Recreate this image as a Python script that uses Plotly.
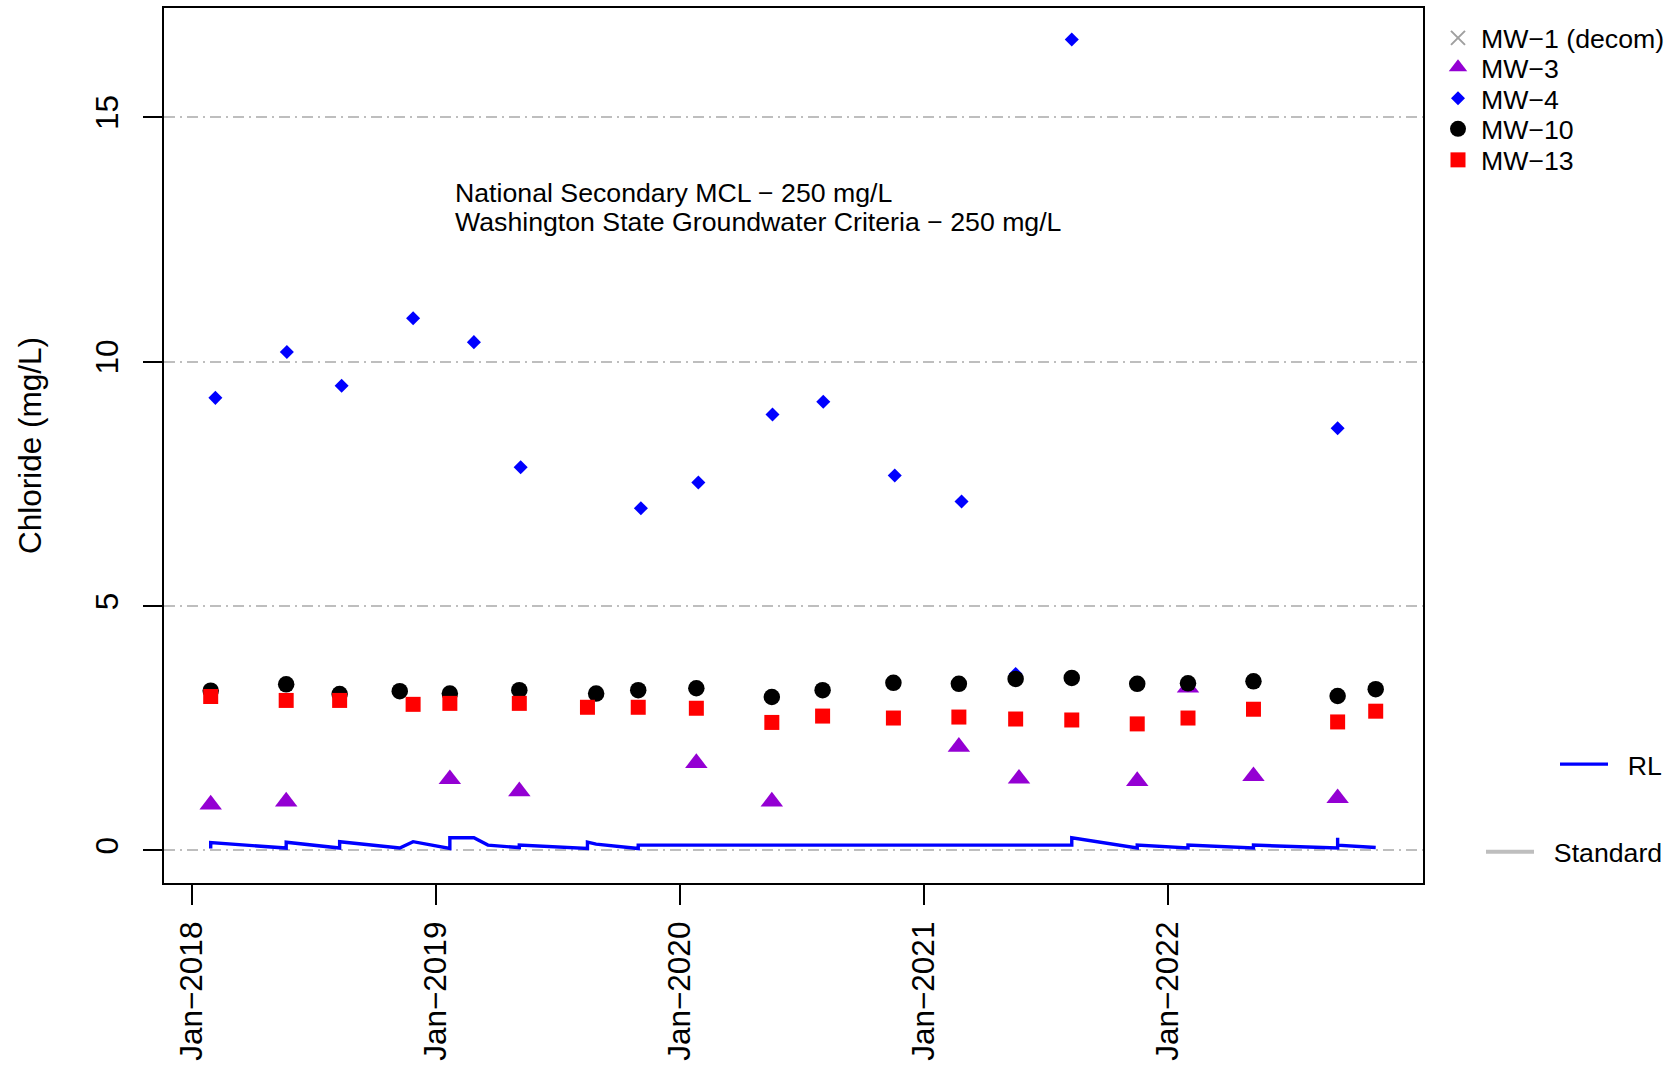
import plotly.graph_objects as go

# ---------------- data ----------------
mw1_dates = []          # decommissioned well: no samples in this period
mw1_vals = []

mw3_dates = ["2018-01-29", "2018-05-22", "2019-01-22", "2019-05-06", "2020-01-26", "2020-05-18",
             "2021-02-22", "2021-05-23", "2021-11-16", "2022-01-31", "2022-05-09", "2022-09-12"]
mw3_vals = [0.94, 1.00, 1.46, 1.21, 1.79, 1.00, 2.12, 1.47, 1.42, 3.33, 1.52, 1.07]

mw4_dates = ["2018-02-05", "2018-05-23", "2018-08-13", "2018-11-28", "2019-02-27", "2019-05-08",
             "2019-11-04", "2020-01-29", "2020-05-19", "2020-08-03", "2020-11-18", "2021-02-26",
             "2021-05-18", "2021-08-10", "2022-09-12"]
mw4_vals = [9.26, 10.20, 9.51, 10.89, 10.40, 7.84, 7.00, 7.53, 8.92, 9.18, 7.67, 7.14, 3.61, 16.59, 8.64]

mw10_dates = ["2018-01-29", "2018-05-22", "2018-08-10", "2018-11-08", "2019-01-22", "2019-05-06",
              "2019-08-29", "2019-10-31", "2020-01-26", "2020-05-18", "2020-08-02", "2020-11-16",
              "2021-02-22", "2021-05-18", "2021-08-10", "2021-11-16", "2022-01-31", "2022-05-09",
              "2022-09-12", "2022-11-08"]
mw10_vals = [3.27, 3.40, 3.20, 3.26, 3.21, 3.28, 3.21, 3.28, 3.32, 3.14, 3.28, 3.43,
             3.41, 3.51, 3.53, 3.41, 3.42, 3.46, 3.16, 3.30]

mw13_dates = ["2018-01-29", "2018-05-22", "2018-08-10", "2018-11-28", "2019-01-22", "2019-05-06",
              "2019-08-16", "2019-10-31", "2020-01-26", "2020-05-18", "2020-08-02", "2020-11-16",
              "2021-02-22", "2021-05-18", "2021-08-10", "2021-11-16", "2022-01-31", "2022-05-09",
              "2022-09-12", "2022-11-08"]
mw13_vals = [3.15, 3.07, 3.07, 2.99, 3.01, 3.01, 2.93, 2.93, 2.91, 2.62, 2.75, 2.71,
             2.73, 2.69, 2.67, 2.59, 2.71, 2.89, 2.63, 2.85]

rl_dates = ["2018-01-29", "2018-01-29", "2018-05-22", "2018-05-22", "2018-08-10", "2018-08-10",
            "2018-11-08", "2018-11-28", "2019-01-22", "2019-01-22", "2019-02-27", "2019-03-20",
            "2019-05-06", "2019-05-06", "2019-08-16", "2019-08-16", "2019-08-29", "2019-10-31",
            "2019-10-31", "2020-01-26", "2020-05-18", "2020-08-02", "2020-11-16", "2021-02-22",
            "2021-05-18", "2021-08-10", "2021-08-10", "2021-11-16", "2021-11-16", "2022-01-31",
            "2022-01-31", "2022-05-09", "2022-05-09", "2022-09-12", "2022-09-12", "2022-09-12",
            "2022-11-08"]
rl_vals = [0.04, 0.16, 0.05, 0.17, 0.05, 0.18,
           0.05, 0.18, 0.04, 0.26, 0.26, 0.11,
           0.06, 0.11, 0.04, 0.17, 0.13, 0.04,
           0.11, 0.11, 0.11, 0.11, 0.11, 0.11,
           0.11, 0.11, 0.26, 0.05, 0.11, 0.05,
           0.11, 0.05, 0.11, 0.05, 0.26, 0.11,
           0.06]

std_dates = ["2018-01-29", "2022-11-08"]
std_vals = [250, 250]   # standard (250 mg/L) lies far above the plotted range

x_tickvals = ["2018-01-01", "2019-01-01", "2020-01-01", "2021-01-01", "2022-01-01"]
x_ticktext = ["Jan\u22122018", "Jan\u22122019", "Jan\u22122020", "Jan\u22122021", "Jan\u22122022"]
y_tickvals = [0, 5, 10, 15]
y_ticktext = ["0", "5", "10", "15"]

note_lines = ["National Secondary MCL \u2212 250 mg/L",
              "Washington State Groundwater Criteria \u2212 250 mg/L"]

# ---------------- layout constants ----------------
W, H = 1678, 1065
ML, MR, MT, MB = 164, 255, 8, 182
FONT = "Liberation Sans, Arial, sans-serif"
AX_FS = 31.5
TX_FS = 26.7


def leg(x_px, y_px, **kw):
    d = dict(xref="container", yref="container", x=x_px / W, y=1 - y_px / H,
             xanchor="left", yanchor="middle", bgcolor="rgba(0,0,0,0)", borderwidth=0,
             font=dict(family=FONT, size=TX_FS, color="black"))
    d.update(kw)
    return d


def px_paper_x(px):
    return (px - ML) / (W - ML - MR)


def px_paper_y(py):
    return (H - MB - py) / (H - MB - MT)


fig = go.Figure()

fig.add_trace(go.Scatter(x=mw1_dates or [None], y=mw1_vals or [None], mode="markers",
                         name="MW\u22121 (decom)", showlegend=True,
                         marker=dict(symbol="x-thin", size=14, color="#A0A0A0",
                                     line=dict(color="#A0A0A0", width=2)),
                         legend="legend"))
fig.add_trace(go.Scatter(x=mw3_dates, y=mw3_vals, mode="markers", name="MW\u22123",
                         marker=dict(symbol="triangle-up", size=19.5, color="#9400D3"),
                         legend="legend2"))
fig.add_trace(go.Scatter(x=mw4_dates, y=mw4_vals, mode="markers", name="MW\u22124",
                         marker=dict(symbol="diamond", size=10.8, color="#0000FF"),
                         legend="legend3"))
fig.add_trace(go.Scatter(x=mw10_dates, y=mw10_vals, mode="markers", name="MW\u221210",
                         marker=dict(symbol="circle", size=16.5, color="#000000"),
                         legend="legend4"))
fig.add_trace(go.Scatter(x=mw13_dates, y=mw13_vals, mode="markers", name="MW\u221213",
                         marker=dict(symbol="square", size=15, color="#FF0000"),
                         legend="legend5"))
fig.add_trace(go.Scatter(x=rl_dates, y=rl_vals, mode="lines", name="\u00a0\u00a0RL",
                         line=dict(color="#0000FF", width=3.4),
                         legend="legend6"))
fig.add_trace(go.Scatter(x=std_dates, y=std_vals, mode="lines", name="\u00a0\u00a0Standard",
                         line=dict(color="#BEBEBE", width=4),
                         legend="legend7"))

for i, t in enumerate(note_lines):
    fig.add_annotation(xref="paper", yref="paper", x=px_paper_x(453), y=px_paper_y(192.5 + 30 * i),
                       xanchor="left", yanchor="middle", text=t, showarrow=False,
                       font=dict(family=FONT, size=TX_FS, color="black"))

mk_legend = dict(itemwidth=36)
fig.update_layout(
    width=W, height=H,
    showlegend=True,
    margin=dict(l=ML, r=MR, t=MT, b=MB, autoexpand=False),
    paper_bgcolor="white", plot_bgcolor="white",
    font=dict(family=FONT, color="black"),
    legend=leg(1435, 38.0, **mk_legend),
    legend2=leg(1435, 67.5, **mk_legend),
    legend3=leg(1435, 98.5, **mk_legend),
    legend4=leg(1435, 129.0, **mk_legend),
    legend5=leg(1435, 160.0, **mk_legend),
    legend6=leg(1555, 764.3, itemwidth=48),
    legend7=leg(1481, 852.0, itemwidth=48),
    xaxis=dict(
        type="date",
        range=["2017-11-20 02:00", "2023-01-17 19:00"],
        tickmode="array", tickvals=x_tickvals, ticktext=x_ticktext,
        tickangle=-90, tickfont=dict(family=FONT, size=AX_FS, color="black"),
        ticks="outside", ticklen=20, tickwidth=2, tickcolor="black",
        showline=True, linecolor="black", linewidth=2, mirror=True,
        showgrid=False, zeroline=False, automargin=False,
        ticklabelstandoff=4,
    ),
    yaxis=dict(
        range=[-0.665, 17.236],
        tickmode="array", tickvals=y_tickvals, ticktext=y_ticktext,
        tickangle=-90, tickfont=dict(family=FONT, size=AX_FS, color="black"),
        ticks="outside", ticklen=19, tickwidth=2, tickcolor="black",
        showline=True, linecolor="black", linewidth=2, mirror=True,
        showgrid=True, gridcolor="#BEBEBE", gridwidth=2, griddash="11px,5px,2px,5px",
        zeroline=False, automargin=False,
        title=dict(text="Chloride (mg/L)", font=dict(family=FONT, size=AX_FS, color="black"),
                   standoff=38),
        ticklabelstandoff=12,
    ),
)

fig.write_html("out.html",
               config={"displayModeBar": False},
               post_script="document.body.style.margin='0px';document.body.style.padding='0px';"
                           "document.body.style.overflow='hidden';")
